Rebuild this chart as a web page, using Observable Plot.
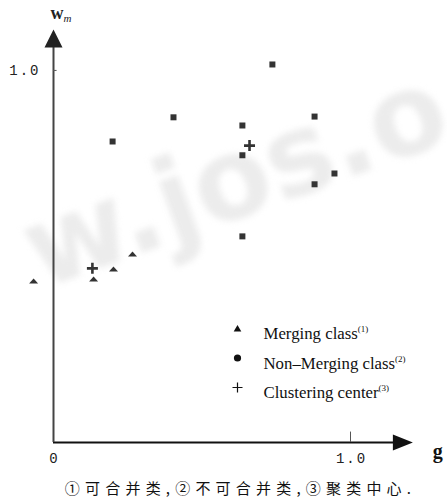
<!DOCTYPE html>
<html>
<head>
<meta charset="utf-8">
<script src="https://cdn.jsdelivr.net/npm/d3@7"></script>
<script src="https://cdn.jsdelivr.net/npm/@observablehq/plot@0.6"></script>
<style>
  html, body { margin: 0; padding: 0; background: #fff; overflow: hidden; }
  #chart { width: 447px; }
  .caption {
    width: 447px; height: 26px; line-height: 26px; text-align: center;
    font-family: "Noto Sans CJK SC", sans-serif; font-size: 15px; letter-spacing: 5.2px;
    color: #111; padding-left: 34px; box-sizing: border-box;
  }
  .watermark text { filter: blur(3px); }
  .ticklabel text { letter-spacing: 2px; }
</style>
</head>
<body>
<div id="chart"></div>
<div class="caption" id="caption"></div>
<script>
// ---- data ----
const mergingG = [-0.067, 0.135, 0.202, 0.266];
const mergingW = [0.433, 0.438, 0.465, 0.505];

const nonMergingG = [0.199, 0.404, 0.636, 0.636, 0.636, 0.737, 0.879, 0.879, 0.946];
const nonMergingW = [0.809, 0.874, 0.852, 0.772, 0.554, 1.016, 0.876, 0.694, 0.723];

const centerG = [0.131, 0.660];
const centerW = [0.468, 0.798];

const xTickValues = [0, 1.0];
const xTickLabels = ["0", "1.0"];
const yTickValues = [1.0];
const yTickLabels = ["1.0"];

const legendLabels = ["Merging class", "Non\u2013Merging class", "Clustering center"];
const legendNotes = ["(1)", "(2)", "(3)"];
const captionText = "\u2460可合并类,\u2461不可合并类,\u2462聚类中心.";
const watermarkText = "w.jos.o";

const gMax = 1.21;   // end of g axis (arrow tip)
const wMax = 1.11;   // end of w axis (arrow tip)

// ---- table built from the arrays ----
const merging = mergingG.map((g, i) => ({g, w: mergingW[i]}));
const nonMerging = nonMergingG.map((g, i) => ({g, w: nonMergingW[i]}));
const centers = centerG.map((g, i) => ({g, w: centerW[i]}));

// ---- custom symbols ----
const arrowRight = {draw(c) { c.moveTo(0, 0); c.lineTo(-20, -8); c.lineTo(-20, 8); c.closePath(); }};
const arrowUp = {draw(c) { c.moveTo(0, 0); c.lineTo(-9, 18); c.lineTo(9, 18); c.closePath(); }};
const flatTri = {draw(c) { c.moveTo(0, -3); c.lineTo(4.5, 2); c.lineTo(-4.5, 2); c.closePath(); }};
const square = {draw(c) { c.rect(-3, -3, 6, 6); }};
const thickPlus = {draw(c) { c.moveTo(-5.5, 0); c.lineTo(5.5, 0); c.moveTo(0, -5.5); c.lineTo(0, 5.5); }};
const legTri = {draw(c) { c.moveTo(0, -3.5); c.lineTo(3.8, 3); c.lineTo(-3.8, 3); c.closePath(); }};
const legCircle = {draw(c) { c.moveTo(3.6, 0); c.arc(0, 0, 3.6, 0, 2 * Math.PI); }};
const legPlus = {draw(c) { c.moveTo(-5, 0); c.lineTo(5, 0); c.moveTo(0, -5); c.lineTo(0, 5); }};
const legendSymbols = [legTri, legCircle, legPlus];

const ink = "#333";

function withSup(note, size, shift, italic) {
  return (index, scales, values, dims, ctx, next) => {
    const g = next(index, scales, values, dims, ctx);
    d3.select(g).selectAll("text").append("tspan")
      .attr("dy", shift).attr("font-size", size)
      .attr("font-style", italic ? "italic" : null)
      .attr("font-weight", italic ? "normal" : null)
      .text(note);
    return g;
  };
}

const legendMarks = legendLabels.flatMap((label, i) => [
  Plot.dot([label], {
    frameAnchor: "top-left", dx: 184, dy: 299 + i * 29.5,
    symbol: legendSymbols[i], r: 4,
    fill: i < 2 ? "#111" : "none", stroke: i < 2 ? "none" : "#111", strokeWidth: 1.2
  }),
  Plot.text([label], {
    frameAnchor: "top-left", dx: 210, dy: 298 + i * 29.5,
    text: d => d, textAnchor: "start",
    fontFamily: "Liberation Serif", fontSize: 16.8, fill: "#111",
    render: withSup(legendNotes[i], 9, -7, false)
  })
]);

const chart = Plot.plot({
  width: 447,
  height: 475,
  marginLeft: 53,
  marginRight: 447 - 53 - gMax * 297,
  marginTop: 29,
  marginBottom: 33,
  x: {domain: [0, gMax], axis: null},
  y: {domain: [0, wMax], axis: null},
  style: {background: "#fff"},
  marks: [
    // watermark
    Plot.text([watermarkText], {
      frameAnchor: "top-left", dx: -40, dy: 185, text: d => d,
      textAnchor: "start", rotate: -20,
      fontFamily: "DejaVu Sans", fontWeight: "bold", fontSize: 112,
      fill: "#ececec", className: "watermark"
    }),
    // axes
    Plot.ruleY([0], {x1: 0, x2: gMax - 0.05, stroke: "#111", strokeWidth: 2.2}),
    Plot.ruleX([0], {y1: 0, y2: wMax - 0.04, stroke: "#444", strokeWidth: 2}),
    Plot.dot([gMax], {x: d => d, y: 0, symbol: arrowRight, r: 5, fill: "#111", stroke: "none"}),
    Plot.dot([wMax], {x: 0, y: d => d, symbol: arrowUp, r: 5, fill: "#222", stroke: "none"}),
    // small ticks
    Plot.ruleX(xTickValues.filter(v => v > 0), {y1: 0, y2: 0.028, stroke: "#555", strokeWidth: 1}),
    Plot.ruleY(yTickValues, {x1: 0, x2: 0.012, stroke: "#555", strokeWidth: 1}),
    // tick labels
    Plot.text(xTickValues, {
      x: d => d, y: 0, text: (d, i) => xTickLabels[i], dy: 16, dx: 1,
      fontFamily: "Liberation Mono", fontSize: 14, fill: "#222", className: "ticklabel"
    }),
    Plot.text(yTickValues, {
      x: 0, y: d => d, text: (d, i) => yTickLabels[i], dx: -13, textAnchor: "end",
      fontFamily: "Liberation Mono", fontSize: 14, fill: "#222", className: "ticklabel"
    }),
    // axis titles
    Plot.text(["g"], {
      x: gMax, y: 0, text: d => d, dx: 25, dy: 9,
      fontFamily: "Liberation Serif", fontWeight: "bold", fontSize: 20, fill: "#111"
    }),
    Plot.text(["w"], {
      x: 0, y: wMax, text: d => d, dx: -3, dy: -16, textAnchor: "start",
      fontFamily: "Liberation Serif", fontWeight: "bold", fontSize: 18, fill: "#222",
      render: withSup("m", 11, 3, true)
    }),
    // data
    Plot.dot(merging, {x: "g", y: "w", symbol: flatTri, r: 4, fill: ink, stroke: "none"}),
    Plot.dot(nonMerging, {x: "g", y: "w", symbol: square, r: 4, fill: ink, stroke: "none"}),
    Plot.dot(centers, {x: "g", y: "w", symbol: thickPlus, r: 4, fill: "none", stroke: ink, strokeWidth: 2.6}),
    ...legendMarks
  ]
});

document.getElementById("chart").append(chart);
document.getElementById("caption").textContent = captionText;
</script>
</body>
</html>
